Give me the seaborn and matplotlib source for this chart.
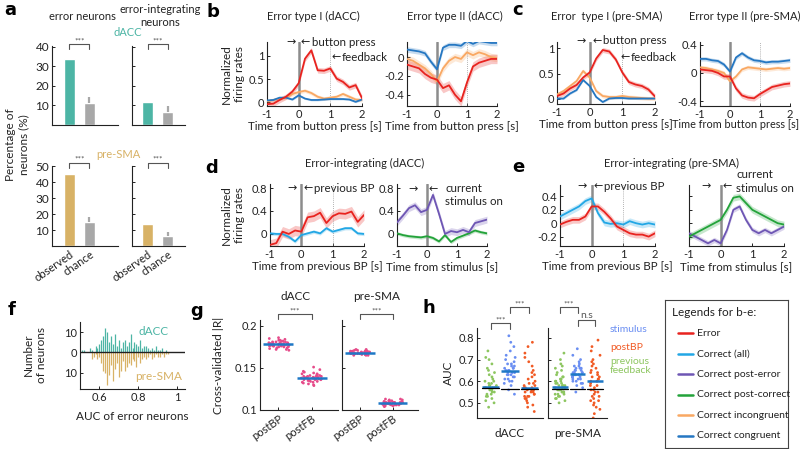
import numpy as np
import pandas as pd
import matplotlib
matplotlib.use("Agg")
import matplotlib.pyplot as plt
import seaborn as sns

# ---------------- data ----------------
# panel a : percentage of neurons
a_groups = ["observed", "chance"]
a_dacc_err = [33.8, 11.0]
a_dacc_err_ci = [0.0, 3.3]
a_dacc_int = [11.7, 6.6]
a_dacc_int_ci = [0.0, 2.9]
a_psma_err = [45.2, 15.1]
a_psma_err_ci = [0.0, 3.0]
a_psma_int = [13.6, 6.5]
a_psma_int_ci = [0.0, 2.5]

# time axis (s) for panels b-e
t = [-1.0, -0.8, -0.6, -0.4, -0.2, 0.0, 0.2, 0.4, 0.6, 0.8, 1.0, 1.2, 1.4, 1.6, 1.8, 2.0]

# b: Error type I (dACC)
b1_err = [-0.04, -0.03, 0.05, 0.12, 0.23, 0.41, 0.94, 1.12, 0.69, 0.68, 0.73, 0.51, 0.44, 0.32, 0.37, 0.09]
b1_inc = [0.02, 0.05, 0.08, 0.10, 0.18, 0.22, 0.25, 0.20, 0.12, 0.08, 0.10, 0.12, 0.18, 0.12, 0.06, 0.05]
b1_con = [0.04, 0.05, 0.10, 0.10, 0.06, 0.15, 0.08, 0.05, 0.05, 0.06, 0.07, 0.07, 0.07, 0.06, 0.01, 0.06]
b1_sem = [0.06, 0.04, 0.02]
# b: Error type II (dACC)
b2_err = [-0.08, -0.10, -0.12, -0.18, -0.22, -0.24, -0.33, -0.30, -0.40, -0.47, -0.27, -0.10, -0.06, -0.04, -0.02, -0.02]
b2_inc = [-0.02, -0.04, -0.08, -0.12, -0.18, -0.26, -0.12, -0.04, 0.00, -0.02, 0.05, 0.02, 0.05, 0.03, 0.00, -0.01]
b2_con = [0.08, 0.07, 0.06, 0.04, -0.05, -0.13, 0.10, 0.13, 0.13, 0.12, 0.17, 0.14, 0.17, 0.16, 0.15, 0.15]
b2_sem = [0.05, 0.04, 0.03]
# c: Error type I (pre-SMA)
c1_err = [0.05, 0.10, 0.20, 0.27, 0.42, 0.52, 0.80, 0.97, 0.94, 0.78, 0.52, 0.33, 0.28, 0.25, 0.18, 0.04]
c1_inc = [0.08, 0.15, 0.25, 0.35, 0.55, 0.42, 0.15, 0.05, 0.03, 0.03, 0.05, 0.03, 0.02, 0.01, 0.00, 0.00]
c1_con = [0.00, 0.00, 0.10, 0.17, 0.37, 0.25, 0.03, -0.07, 0.00, 0.01, 0.01, 0.00, 0.00, 0.00, 0.00, 0.00]
c1_sem = [0.05, 0.04, 0.02]
# c: Error type II (pre-SMA)
c2_err = [0.05, 0.04, 0.03, 0.00, -0.05, -0.05, -0.22, -0.32, -0.35, -0.36, -0.30, -0.25, -0.20, -0.18, -0.16, -0.15]
c2_inc = [0.08, 0.07, 0.05, 0.03, 0.00, -0.12, -0.05, 0.05, 0.08, 0.07, 0.06, 0.05, 0.06, 0.07, 0.06, 0.07]
c2_con = [0.20, 0.20, 0.18, 0.17, 0.12, 0.02, 0.22, 0.28, 0.22, 0.18, 0.17, 0.15, 0.16, 0.16, 0.17, 0.18]
c2_sem = [0.04, 0.03, 0.03]
# d: Error-integrating (dACC)
d1_err = [-0.19, -0.16, 0.04, 0.00, 0.06, 0.04, 0.29, 0.31, 0.37, 0.19, 0.31, 0.36, 0.35, 0.39, 0.21, 0.33]
d1_all = [0.01, 0.00, 0.00, -0.05, -0.13, -0.02, 0.01, 0.04, 0.01, 0.10, 0.04, 0.07, 0.10, 0.10, 0.01, 0.00]
d1_sem = [0.09, 0.03]
d2_pe = [0.20, 0.32, 0.45, 0.50, 0.38, 0.42, 0.68, 0.35, 0.00, 0.05, 0.03, 0.07, 0.03, 0.19, 0.22, 0.25]
d2_pc = [0.01, -0.02, -0.04, -0.05, -0.06, -0.04, -0.07, -0.13, -0.02, -0.14, -0.07, -0.03, 0.01, 0.06, 0.03, 0.01]
d2_sem = [0.06, 0.03]
# e: Error-integrating (pre-SMA)
e1_err = [-0.02, 0.02, 0.05, 0.05, 0.10, 0.25, 0.25, 0.17, 0.07, -0.05, -0.10, -0.15, -0.17, -0.17, -0.20, -0.15]
e1_all = [0.10, 0.15, 0.20, 0.25, 0.33, 0.37, 0.15, 0.01, -0.01, 0.00, -0.02, 0.03, 0.00, -0.02, 0.00, -0.02]
e1_sem = [0.05, 0.05]
e2_pe = [-0.15, -0.20, -0.25, -0.30, -0.25, -0.30, -0.10, 0.20, 0.25, 0.05, -0.10, -0.15, -0.10, -0.15, -0.10, -0.05]
e2_pc = [-0.20, -0.15, -0.10, -0.05, 0.00, 0.05, 0.20, 0.38, 0.40, 0.30, 0.20, 0.15, 0.10, 0.05, 0.00, -0.02]
e2_sem = [0.04, 0.05]

# f: AUC histogram of error neurons
f_bins = [0.51, 0.52, 0.53, 0.54, 0.55, 0.56, 0.57, 0.58, 0.59, 0.60, 0.61, 0.62, 0.63, 0.64, 0.65,
          0.66, 0.67, 0.68, 0.69, 0.70, 0.71, 0.72, 0.73, 0.74, 0.75, 0.76, 0.77, 0.78, 0.79, 0.80,
          0.81, 0.82, 0.83, 0.84, 0.85, 0.86, 0.87, 0.88, 0.89, 0.90, 0.91, 0.92, 0.93, 0.94, 0.95, 0.96]
f_dacc = [1, 1, 0, 0, 2, 1, 0, 3, 2, 4, 6, 8, 12, 10, 5, 8, 4, 9, 3, 6, 2, 5, 6, 3, 5, 9, 2, 5, 4, 3,
          6, 2, 3, 3, 2, 1, 2, 1, 3, 1, 1, 2, 0, 1, 0, 0]
f_psma = [0, 0, 0, 0, 0, 3, 2, 1, 3, 2, 5, 9, 10, 16, 11, 6, 14, 8, 5, 12, 9, 4, 9, 7, 5, 6, 3, 4, 7, 2,
          5, 3, 2, 3, 2, 1, 3, 2, 1, 2, 2, 1, 2, 1, 1, 0]

# g: cross-validated |R|
g_conds = ["postBP", "postFB"]
g_dacc_bp = [0.178, 0.181, 0.175, 0.179, 0.183, 0.176, 0.172, 0.180, 0.177, 0.185, 0.174, 0.179, 0.182, 0.178,
             0.171, 0.176, 0.180, 0.184, 0.177, 0.175, 0.179, 0.181, 0.173, 0.178, 0.186, 0.176, 0.180, 0.177,
             0.182, 0.174, 0.178, 0.179, 0.175, 0.181, 0.177, 0.183, 0.176, 0.172, 0.180, 0.178]
g_dacc_fb = [0.138, 0.142, 0.134, 0.140, 0.145, 0.136, 0.131, 0.139, 0.137, 0.148, 0.133, 0.141, 0.143, 0.138,
             0.129, 0.135, 0.140, 0.146, 0.137, 0.134, 0.139, 0.142, 0.132, 0.138, 0.151, 0.136, 0.140, 0.137,
             0.144, 0.133, 0.138, 0.139, 0.135, 0.141, 0.137, 0.143, 0.136, 0.130, 0.140, 0.138]
g_psma_bp = [0.168, 0.170, 0.166, 0.169, 0.171, 0.167, 0.165, 0.169, 0.168, 0.172, 0.166, 0.169, 0.170, 0.168,
             0.165, 0.167, 0.169, 0.171, 0.168, 0.166, 0.169, 0.170, 0.166, 0.168, 0.172, 0.167, 0.169, 0.168,
             0.170, 0.166, 0.168, 0.169, 0.167, 0.170, 0.168, 0.171, 0.167, 0.165, 0.169, 0.168]
g_psma_fb = [0.108, 0.110, 0.106, 0.109, 0.112, 0.107, 0.105, 0.109, 0.108, 0.113, 0.106, 0.109, 0.111, 0.108,
             0.104, 0.107, 0.109, 0.112, 0.108, 0.106, 0.109, 0.110, 0.105, 0.108, 0.113, 0.107, 0.109, 0.108,
             0.111, 0.106, 0.108, 0.109, 0.107, 0.110, 0.108, 0.111, 0.107, 0.105, 0.109, 0.108]
g_dacc_med = [0.178, 0.138]
g_psma_med = [0.168, 0.108]

# h: AUC by epoch
h_conds = ["previous feedback", "stimulus", "postBP"]
h_dacc_fb = [0.48, 0.50, 0.51, 0.52, 0.53, 0.54, 0.54, 0.55, 0.55, 0.56, 0.56, 0.57, 0.57, 0.57, 0.58, 0.58, 0.59,
             0.59, 0.60, 0.61, 0.62, 0.63, 0.64, 0.65, 0.66, 0.68, 0.70, 0.71, 0.74, 0.53, 0.56, 0.58, 0.60, 0.57]
h_dacc_st = [0.54, 0.56, 0.58, 0.59, 0.60, 0.61, 0.61, 0.62, 0.62, 0.63, 0.63, 0.64, 0.64, 0.64, 0.65, 0.65, 0.65,
             0.66, 0.66, 0.67, 0.67, 0.68, 0.68, 0.69, 0.70, 0.71, 0.72, 0.74, 0.76, 0.78, 0.81, 0.63, 0.66, 0.60]
h_dacc_bp = [0.46, 0.48, 0.49, 0.50, 0.51, 0.52, 0.52, 0.53, 0.53, 0.54, 0.54, 0.55, 0.55, 0.56, 0.56, 0.56, 0.57,
             0.57, 0.57, 0.58, 0.58, 0.59, 0.60, 0.61, 0.62, 0.63, 0.65, 0.67, 0.69, 0.71, 0.73, 0.76, 0.78, 0.55,
             0.53, 0.59, 0.64]
h_psma_fb = [0.50, 0.51, 0.52, 0.53, 0.53, 0.54, 0.54, 0.55, 0.55, 0.55, 0.56, 0.56, 0.56, 0.57, 0.57, 0.57, 0.57,
             0.58, 0.58, 0.58, 0.59, 0.59, 0.60, 0.60, 0.61, 0.61, 0.62, 0.63, 0.64, 0.65, 0.66, 0.67, 0.68, 0.70,
             0.73, 0.54, 0.56, 0.58, 0.55, 0.57, 0.59, 0.62, 0.52, 0.60]
h_psma_st = [0.55, 0.57, 0.58, 0.59, 0.60, 0.60, 0.61, 0.61, 0.62, 0.62, 0.62, 0.63, 0.63, 0.63, 0.64, 0.64, 0.64,
             0.65, 0.65, 0.66, 0.66, 0.67, 0.68, 0.69, 0.70, 0.72, 0.75, 0.61, 0.63, 0.65, 0.59, 0.62, 0.64, 0.66, 0.67]
h_psma_bp = [0.43, 0.45, 0.47, 0.49, 0.50, 0.51, 0.52, 0.53, 0.54, 0.55, 0.56, 0.56, 0.57, 0.58, 0.59, 0.60, 0.60,
             0.61, 0.61, 0.62, 0.63, 0.64, 0.65, 0.66, 0.67, 0.68, 0.70, 0.72, 0.74, 0.76, 0.79, 0.55, 0.58, 0.62,
             0.64, 0.69, 0.51, 0.53, 0.48]
h_dacc_med = [0.572, 0.645, 0.567]
h_dacc_chance = [0.568, 0.566, 0.566]
h_psma_med = [0.572, 0.632, 0.603]
h_psma_chance = [0.566, 0.562, 0.563]

legend_labels = ["Error", "Correct (all)", "Correct post-error", "Correct post-correct",
                 "Correct incongruent", "Correct congruent"]

# ---------------- style ----------------
C_ERR = "#E8231F"
C_ALL = "#22A7E5"
C_PE = "#6E56B4"
C_PC = "#23A33A"
C_INC = "#F9A863"
C_CON = "#2577C2"
C_TEAL = "#4DB5A5"
C_TAN = "#D8B266"
C_GRAY = "#A8A8A8"
C_PINK = "#E64B8A"
C_MED = "#1E78C6"
H_COLS = ["#8DC660", "#6A8EF2", "#F15A24"]
TXT = "#222222"
FS_TICK = 8
FS_LAB = 8.3
FS_TIT = 8

sns.set_theme(style="ticks")
plt.rcParams["font.family"] = ["Lato", "DejaVu Sans"]
plt.rcParams["font.size"] = 8
plt.rcParams["axes.linewidth"] = 0.8

W, H = 800, 449
fig = plt.figure(figsize=(W / 100, H / 100), dpi=100)


def pax(l, tp, r, b):
    return fig.add_axes([l / W, 1 - b / H, (r - l) / W, (b - tp) / H])


def ftext(x, y, s, **kw):
    kw.setdefault("color", TXT)
    fig.text(x / W, 1 - y / H, s, **kw)


def style(ax, labelsize=FS_TICK):
    for s in ["top", "right"]:
        ax.spines[s].set_visible(False)
    for s in ["left", "bottom"]:
        ax.spines[s].set_color(TXT)
        ax.spines[s].set_linewidth(0.8)
    ax.tick_params(direction="in", length=2.5, width=0.7, labelsize=labelsize, pad=2, colors=TXT)
    ax.set_xlabel("")
    ax.set_ylabel("")


def bracket(ax, x1, x2, y, h, s, fs=6, color="#555555"):
    ax.plot([x1, x1, x2, x2], [y - h, y, y, y - h], color=color, lw=0.8, clip_on=False)
    ax.text((x1 + x2) / 2, y, s, ha="center", va="bottom", fontsize=fs, color=color, clip_on=False)


# ---------------- panel a ----------------
def bar_panel(box, vals, ci, color, ylim, yticks, labels, xlabels, xlim, br_y, br_h):
    ax = pax(*box)
    df = pd.DataFrame({"g": a_groups, "v": vals})
    sns.barplot(data=df, x="g", y="v", hue="g", palette=[color, C_GRAY], width=0.55,
                errorbar=None, saturation=1, legend=False, ax=ax)
    ax.vlines([1], [vals[1]], [vals[1] + ci[1]], color=C_GRAY, lw=1.6)
    style(ax)
    ax.set_ylim(*ylim)
    ax.set_xlim(*xlim)
    ax.set_yticks(yticks)
    if not labels:
        ax.set_yticklabels([])
    else:
        ax.tick_params(axis="y", labelsize=8.5)
    ax.tick_params(axis="x", length=0)
    if xlabels:
        ax.set_xticks([0, 1])
        ax.set_xticklabels(a_groups, rotation=35, ha="right", rotation_mode="anchor", fontsize=8)
    else:
        ax.set_xticklabels([])
    bracket(ax, 0, 1, br_y, br_h, "***")
    return ax


bar_panel((52, 46, 118, 125), a_dacc_err, a_dacc_err_ci, C_TEAL, (0, 40.3), [10, 20, 30, 40], True, False,
          (-0.875, 2.43), 41.3, 2.5)
bar_panel((132, 46, 185, 125), a_dacc_int, a_dacc_int_ci, C_TEAL, (0, 40.3), [10, 20, 30, 40], False, False,
          (-0.775, 1.875), 41.3, 2.5)
bar_panel((52, 166, 118, 246), a_psma_err, a_psma_err_ci, C_TAN, (0, 50.3), [10, 20, 30, 40, 50], True, True,
          (-0.875, 2.43), 52.2, 3.1)
bar_panel((132, 166, 185, 246), a_psma_int, a_psma_int_ci, C_TAN, (0, 50.3), [10, 20, 30, 40, 50], False, True,
          (-0.775, 1.875), 52.2, 3.1)

ftext(82, 17, "error neurons", ha="center", va="center", fontsize=8)
ftext(160, 16, "error-integrating\nneurons", ha="center", va="center", fontsize=8, linespacing=1.3)
ftext(128, 33, "dACC", ha="center", va="center", fontsize=8, color=C_TEAL)
ftext(118, 155, "pre-SMA", ha="center", va="center", fontsize=8, color=C_TAN)
ftext(17, 145, "Percentage of\nneurons (%)", ha="center", va="center", rotation=90, fontsize=8.5, linespacing=1.2)


# ---------------- panels b-e ----------------
def ts_panel(box, series, sems, colors, ylim, yticks, yticklabels, dotted=True, xlabel=""):
    ax = pax(*box)
    ax.axvline(0, color="#8C8C8C", lw=1.8, zorder=1.5)
    if dotted:
        ax.axvline(1, color="#9A9A9A", lw=0.6, ls=(0, (1, 1.5)), zorder=1.5)
    for vals, sem, col in zip(series, sems, colors):
        v = np.array(vals)
        ax.fill_between(t, v - sem, v + sem, color=col, alpha=0.25, lw=0, zorder=1)
        df = pd.DataFrame({"t": t, "v": vals})
        sns.lineplot(data=df, x="t", y="v", color=col, lw=1.3, ax=ax, zorder=3)
    style(ax)
    ax.set_xlim(-1, 2)
    ax.set_ylim(*ylim)
    ax.set_xticks([-1, 0, 1, 2])
    ax.set_xticklabels(["-1", "0", "1", "2"])
    ax.set_yticks(yticks)
    if yticklabels is None:
        ax.set_yticklabels([])
    else:
        ax.set_yticklabels(yticklabels)
    ax.set_xlabel(xlabel, fontsize=FS_LAB, labelpad=1, color=TXT)
    return ax


def arrows(ax, x_r, x_l, y, text="", fs=8):
    ax.text(x_r, y, "→", ha="center", va="center", fontsize=fs, color=TXT,
            family=["DejaVu Sans"], clip_on=False)
    ax.text(x_l, y, "←", ha="center", va="center", fontsize=fs, color=TXT,
            family=["DejaVu Sans"], clip_on=False)
    if text:
        ax.text(x_l + 0.2, y, text, ha="left", va="center", fontsize=FS_LAB, color=TXT, clip_on=False)


XB = "Time from button press [s]"
XP = "Time from previous BP [s]"
XS = "Time from stimulus [s]"

ax = ts_panel((267, 42, 362, 106), [b1_inc, b1_con, b1_err], [b1_sem[1], b1_sem[2], b1_sem[0]],
              [C_INC, C_CON, C_ERR], (-0.08, 1.3), [0, 0.5, 1], ["0", "0.5", "1"], xlabel=XB)
arrows(ax, -0.25, 0.22, 1.3, "button press")
ax.text(1.05, 0.97, "←", ha="left", va="center", fontsize=8, color=TXT, family=["DejaVu Sans"], clip_on=False)
ax.text(1.35, 0.97, "feedback", ha="left", va="center", fontsize=FS_LAB, color=TXT, clip_on=False)

ax = ts_panel((407, 42, 497, 106), [b2_inc, b2_con, b2_err], [b2_sem[1], b2_sem[2], b2_sem[0]],
              [C_INC, C_CON, C_ERR], (-0.52, 0.16), [-0.4, -0.2, 0], ["-0.4", "-0.2", "0"], xlabel=XB)

ax = ts_panel((557, 42, 655, 104), [c1_inc, c1_con, c1_err], [c1_sem[1], c1_sem[2], c1_sem[0]],
              [C_INC, C_CON, C_ERR], (-0.11, 1.13), [0, 0.5, 1], ["0", "0.5", "1"], xlabel=XB)
arrows(ax, -0.25, 0.22, 1.15, "button press")
ax.text(0.95, 0.82, "←", ha="left", va="center", fontsize=8, color=TXT, family=["DejaVu Sans"], clip_on=False)
ax.text(1.25, 0.82, "feedback", ha="left", va="center", fontsize=FS_LAB, color=TXT, clip_on=False)

ax = ts_panel((700, 42, 790, 106), [c2_inc, c2_con, c2_err], [c2_sem[1], c2_sem[2], c2_sem[0]],
              [C_INC, C_CON, C_ERR], (-0.47, 0.44), [-0.4, 0, 0.4], ["-0.4", "0", "0.4"], xlabel="")
ax.text(0.39, -0.2, XB, transform=ax.transAxes, ha="center", va="top", fontsize=7.8, color=TXT)

ax = ts_panel((270, 184, 364, 246), [d1_all, d1_err], [d1_sem[1], d1_sem[0]], [C_ALL, C_ERR],
              (-0.21, 0.87), [0, 0.4, 0.8], ["0", "0.4", "0.8"], xlabel=XP)
arrows(ax, -0.3, 0.22, 0.8, "previous BP")

ax = ts_panel((397, 184, 487, 246), [d2_pc, d2_pe], [d2_sem[1], d2_sem[0]], [C_PC, C_PE],
              (-0.21, 0.87), [0, 0.4, 0.8], ["0", "0.4", "0.8"], dotted=False, xlabel=XS)
arrows(ax, -0.45, 0.22, 0.78)
ax.text(0.6, 0.68, "current\nstimulus on", ha="left", va="center", fontsize=FS_LAB, color=TXT,
        linespacing=1.3, clip_on=False)

ax = ts_panel((560, 185, 655, 246), [e1_all, e1_err], [e1_sem[1], e1_sem[0]], [C_ALL, C_ERR],
              (-0.34, 0.57), [-0.2, 0, 0.2, 0.4], ["-0.2", "0", "0.2", "0.4"], xlabel=XP)
arrows(ax, -0.3, 0.2, 0.55, "previous BP")

ax = ts_panel((689, 185, 784, 246), [e2_pe, e2_pc], [e2_sem[0], e2_sem[1]], [C_PE, C_PC],
              (-0.34, 0.57), [-0.2, 0, 0.2, 0.4], None, dotted=False, xlabel=XS)
arrows(ax, -0.45, 0.22, 0.55)
ax.text(0.5, 0.62, "current\nstimulus on", ha="left", va="center", fontsize=FS_LAB, color=TXT,
        linespacing=1.3, clip_on=False)

ftext(313, 16, "Error type I (dACC)", ha="center", va="center", fontsize=FS_TIT)
ftext(455, 16, "Error type II (dACC)", ha="center", va="center", fontsize=FS_TIT)
ftext(607, 16, "Error  type I (pre-SMA)", ha="center", va="center", fontsize=FS_TIT)
ftext(745, 16, "Error type II (pre-SMA)", ha="center", va="center", fontsize=FS_TIT)
ftext(365, 163, "Error-integrating (dACC)", ha="center", va="center", fontsize=FS_TIT)
ftext(672, 163, "Error-integrating (pre-SMA)", ha="center", va="center", fontsize=FS_TIT)
ftext(233, 74, "Normalized\nfiring rates", ha="center", va="center", rotation=90, fontsize=8.5, linespacing=1.2)
ftext(233, 215, "Normalized\nfiring rates", ha="center", va="center", rotation=90, fontsize=8.5, linespacing=1.2)

# ---------------- panel f ----------------
ax = pax(80, 322, 185, 389)
ax.vlines(f_bins, 0, f_dacc, colors=C_TEAL, lw=0.9)
ax.vlines(f_bins, [-v for v in f_psma], 0, colors=C_TAN, lw=0.9)
ax.axhline(0, color=TXT, lw=1.0)
style(ax)
ax.set_xlim(0.5, 1.04)
ax.set_ylim(-18, 15)
ax.set_xticks([0.6, 0.8, 1.0])
ax.set_xticklabels(["0.6", "0.8", "1"])
ax.set_yticks([-10, 0, 10])
ax.set_yticklabels(["10", "0", "10"])
ax.set_xlabel("AUC of error neurons", fontsize=8.5, labelpad=6, color=TXT)
ax.text(0.88, 10.5, "dACC", ha="center", va="center", color=C_TEAL, fontsize=8.5)
ax.text(0.905, -12, "pre-SMA", ha="center", va="center", color=C_TAN, fontsize=8.5)
ftext(35, 355, "Number\nof neurons", ha="center", va="center", rotation=90, fontsize=8.5, linespacing=1.2)


# ---------------- panel g ----------------
def strip_panel(box, labels, vals_list, meds, colors, ylim, yticks, yticklabels, xlim,
                size, jitter, medcol, medlw=1.6, chance=None):
    ax = pax(*box)
    rows = []
    for lab, vals in zip(labels, vals_list):
        rows += [(lab, v) for v in vals]
    df = pd.DataFrame(rows, columns=["c", "v"])
    sns.stripplot(data=df, x="c", y="v", hue="c", order=labels, palette=colors, size=size,
                  jitter=jitter, linewidth=0, legend=False, ax=ax, zorder=2)
    for i, m in enumerate(meds):
        ax.plot([i - 0.45, i + 0.45], [m, m], color=medcol, lw=medlw, zorder=4, solid_capstyle="butt")
    if chance is not None:
        for i, c in enumerate(chance):
            ax.plot([i - 0.45, i + 0.45], [c, c], color="black", lw=0.9, zorder=5)
    style(ax)
    ax.set_xlim(*xlim)
    ax.set_ylim(*ylim)
    ax.set_yticks(yticks)
    if yticklabels is None:
        ax.set_yticklabels([])
    else:
        ax.set_yticklabels(yticklabels)
    return ax


for box, vals, meds, title, lab in [((260, 320, 338, 410), [g_dacc_bp, g_dacc_fb], g_dacc_med, "dACC", True),
                                    ((342, 320, 418, 410), [g_psma_bp, g_psma_fb], g_psma_med, "pre-SMA", False)]:
    ax = strip_panel(box, g_conds, vals, meds, [C_PINK, C_PINK], (0.1, 0.207),
                     [0.1, 0.15, 0.2], ["0.1", "0.15", "0.2"] if lab else None, (-0.55, 1.78),
                     2.0, 0.32, C_MED, medlw=1.8)
    ax.set_xticks([0, 1])
    ax.set_xticklabels(g_conds, rotation=35, ha="right", rotation_mode="anchor", fontsize=8)
    bracket(ax, 0, 1, 0.214, 0.006, "***")
    ax.text(0.5, 0.228, title, ha="center", va="bottom", fontsize=8.5, color=TXT, clip_on=False)
ftext(218, 365, "Cross-validated |R|", ha="center", va="center", rotation=90, fontsize=8.5)

# ---------------- panel h ----------------
ax = strip_panel((477, 328, 543, 418), h_conds, [h_dacc_fb, h_dacc_st, h_dacc_bp], h_dacc_med, H_COLS,
                 (0.43, 0.846), [0.5, 0.6, 0.7, 0.8], ["0.5", "0.6", "0.7", "0.8"], (-0.7, 2.7), 2.0, 0.3,
                 C_MED, medlw=1.8, chance=h_dacc_chance)
ax.set_xticks([])
ax.set_xlabel("dACC", fontsize=8.5, labelpad=7, color=TXT)
bracket(ax, 0, 1, 0.869, 0.028, "***")
bracket(ax, 1, 2, 0.943, 0.028, "***")
ax.set_ylabel("AUC", fontsize=8.5, color=TXT, labelpad=3)

ax = strip_panel((548, 328, 607, 418), h_conds, [h_psma_fb, h_psma_st, h_psma_bp], h_psma_med, H_COLS,
                 (0.43, 0.846), [0.5, 0.6, 0.7, 0.8], None, (-0.7, 2.7), 2.0, 0.3,
                 C_MED, medlw=1.8, chance=h_psma_chance)
ax.set_xticks([])
ax.set_xlabel("pre-SMA", fontsize=8.5, labelpad=7, color=TXT)
bracket(ax, 0, 1, 0.943, 0.028, "***")
bracket(ax, 1, 2, 0.883, 0.028, "n.s", fs=7.5)

ftext(610, 329, "stimulus", ha="left", va="center", fontsize=7.5, color=H_COLS[1])
ftext(610, 347, "postBP", ha="left", va="center", fontsize=7.5, color=H_COLS[2])
ftext(610, 366, "previous\nfeedback", ha="left", va="center", fontsize=7.5, color=H_COLS[0], linespacing=1.0)

# ---------------- legend box ----------------
lax = pax(665, 300, 788, 448)
lax.set_xlim(665, 788)
lax.set_ylim(448, 300)
lax.set_xticks([])
lax.set_yticks([])
for s in lax.spines.values():
    s.set_color("#444444")
    s.set_linewidth(0.8)
lax.text(672, 312, "Legends for b-e:", ha="left", va="center", fontsize=8.5, color=TXT)
leg_cols = [C_ERR, C_ALL, C_PE, C_PC, C_INC, C_CON]
for i, (lab, col) in enumerate(zip(legend_labels, leg_cols)):
    yy = 333 + i * 20.6
    lax.plot([678, 693], [yy, yy], color=col, lw=1.8)
    lax.text(697, yy, lab, ha="left", va="center", fontsize=7.5, color=TXT)

# ---------------- panel letters ----------------
for x, y, s in [(4, 15, "a"), (206, 17, "b"), (512, 15, "c"), (205, 173, "d"), (512, 172, "e"),
                (8, 315, "f"), (190, 316, "g"), (422, 313, "h")]:
    ftext(x, y, s, ha="left", va="baseline", fontsize=13, fontweight="bold", color="black",
          family=["DejaVu Sans"])

fig.savefig("out.png", dpi=100)
